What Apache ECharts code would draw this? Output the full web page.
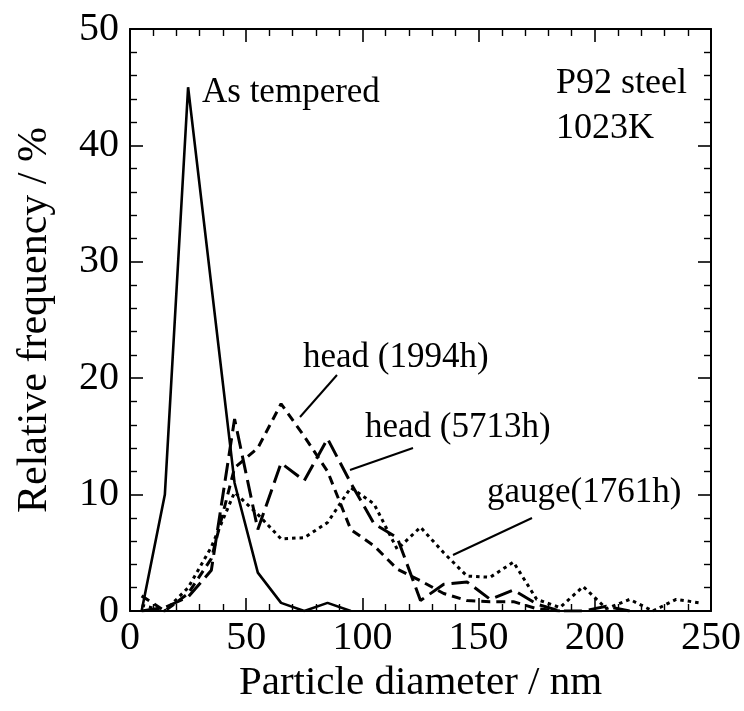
<!DOCTYPE html>
<html lang="en">
<head>
  <meta charset="UTF-8">
  <script src="https://cdn.jsdelivr.net/npm/echarts@6/dist/echarts.min.js"></script>
  <style>
    html, body { margin: 0; padding: 0; background: #fff; }
    #container { width: 744px; height: 711px; }
  </style>
</head>
<body>
  <div id="container"></div>
  <script>
    // bin centres (nm)
    var diameters = [5, 15, 25, 35, 45, 55, 65, 75, 85, 95, 105, 115, 125, 135, 145, 155, 165, 175, 185, 195, 205, 215, 225, 235, 245];
    // relative frequency (%)
    var asTempered = [0, 10, 45, 28, 11, 3.3, 0.7, 0, 0.7, 0];
    var head1994 = [1.3, 0, 1.5, 4.5, 12.3, 14, 17.8, 15, 12, 7, 5.6, 3.6, 2.6, 1.5, 0.9, 0.8, 0.8, 0.2, 0];
    var head5713 = [0, 0.3, 1.2, 3.5, 16.5, 7, 12.7, 11.2, 14.8, 11, 7.5, 6.3, 0.9, 2.3, 2.5, 1, 1.8, 0.6, 0, 0, 0.4, 0];
    var gauge1761 = [0.5, 0, 2, 5.5, 10.2, 8.3, 6.2, 6.3, 7.6, 10.6, 9.2, 5.3, 7.2, 5, 3, 2.9, 4.2, 1, 0.3, 2.1, 0.2, 1, 0, 1, 0.7];

    var pairs = function (vals) {
      var res = [];
      for (var i = 0; i < vals.length; i++) res.push([diameters[i], vals[i]]);
      return res;
    };

    var FONT = 'Liberation Serif, Times New Roman, serif';

    var myChart = echarts.init(document.getElementById('container'));

    // every axis gets its own copies, ticks point into the plot
    function frameAxis(extra) {
      var a = {
        type: 'value',
        axisLine: { show: true, onZero: false, lineStyle: { color: '#000', width: 2 } },
        axisTick: { show: true, inside: true, length: 13, lineStyle: { color: '#000', width: 1.6 } },
        minorTick: { show: true, splitNumber: 5, length: 7, lineStyle: { color: '#000', width: 1.4 } },
        splitLine: { show: false },
        minorSplitLine: { show: false }
      };
      for (var k in extra) a[k] = extra[k];
      return a;
    }

    function mkLine(name, vals, type, width) {
      return {
        name: name,
        type: 'line',
        data: pairs(vals),
        symbol: 'none',
        silent: true,
        lineStyle: { color: '#000', width: width, type: type }
      };
    }

    function label(text, x, y, size) {
      return {
        type: 'text', x: x, y: y, silent: true,
        style: { text: text, fill: '#000', font: size + 'px ' + FONT, verticalAlign: 'middle', align: 'left' }
      };
    }
    function leader(x1, y1, x2, y2) {
      return {
        type: 'line', silent: true,
        shape: { x1: x1, y1: y1, x2: x2, y2: y2 },
        style: { stroke: '#000', lineWidth: 2 }
      };
    }

    var option = {
      backgroundColor: '#fff',
      animation: false,
      grid: { left: 130, right: 32, top: 29, bottom: 100 },
      xAxis: [
        frameAxis({
          min: 0, max: 250, interval: 50, position: 'bottom',
          name: 'Particle diameter / nm', nameLocation: 'middle', nameGap: 47,
          nameTextStyle: { fontFamily: FONT, fontSize: 41, color: '#000' },
          axisLabel: { fontFamily: FONT, fontSize: 40, color: '#000', margin: 7 }
        }),
        frameAxis({
          min: 0, max: 250, interval: 50, position: 'top',
          axisLabel: { show: false }
        })
      ],
      yAxis: [
        frameAxis({
          min: 0, max: 50, interval: 10, position: 'left',
          name: 'Relative frequency / %', nameLocation: 'middle', nameGap: 74,
          nameTextStyle: { fontFamily: FONT, fontSize: 42, color: '#000' },
          axisLabel: { fontFamily: FONT, fontSize: 40, color: '#000', margin: 11 }
        }),
        frameAxis({
          min: 0, max: 50, interval: 10, position: 'right',
          axisLabel: { show: false }
        })
      ],
      series: [
        mkLine('As tempered', asTempered, 'solid', 2.6),
        mkLine('head (1994h)', head1994, [9, 6], 3),
        mkLine('head (5713h)', head5713, [18, 7], 3),
        mkLine('gauge(1761h)', gauge1761, [3.5, 4], 3)
      ],
      graphic: [
        label('As tempered', 202, 93, 35),
        label('P92 steel', 556, 84, 36),
        label('1023K', 556, 129, 36),
        label('head (1994h)', 303, 358, 35),
        label('head (5713h)', 365, 428, 35),
        label('gauge(1761h)', 487, 493, 35),
        leader(337, 375, 300, 417),
        leader(413, 448, 350, 470),
        leader(532, 518, 453, 555)
      ]
    };

    myChart.setOption(option);
  </script>
</body>
</html>
